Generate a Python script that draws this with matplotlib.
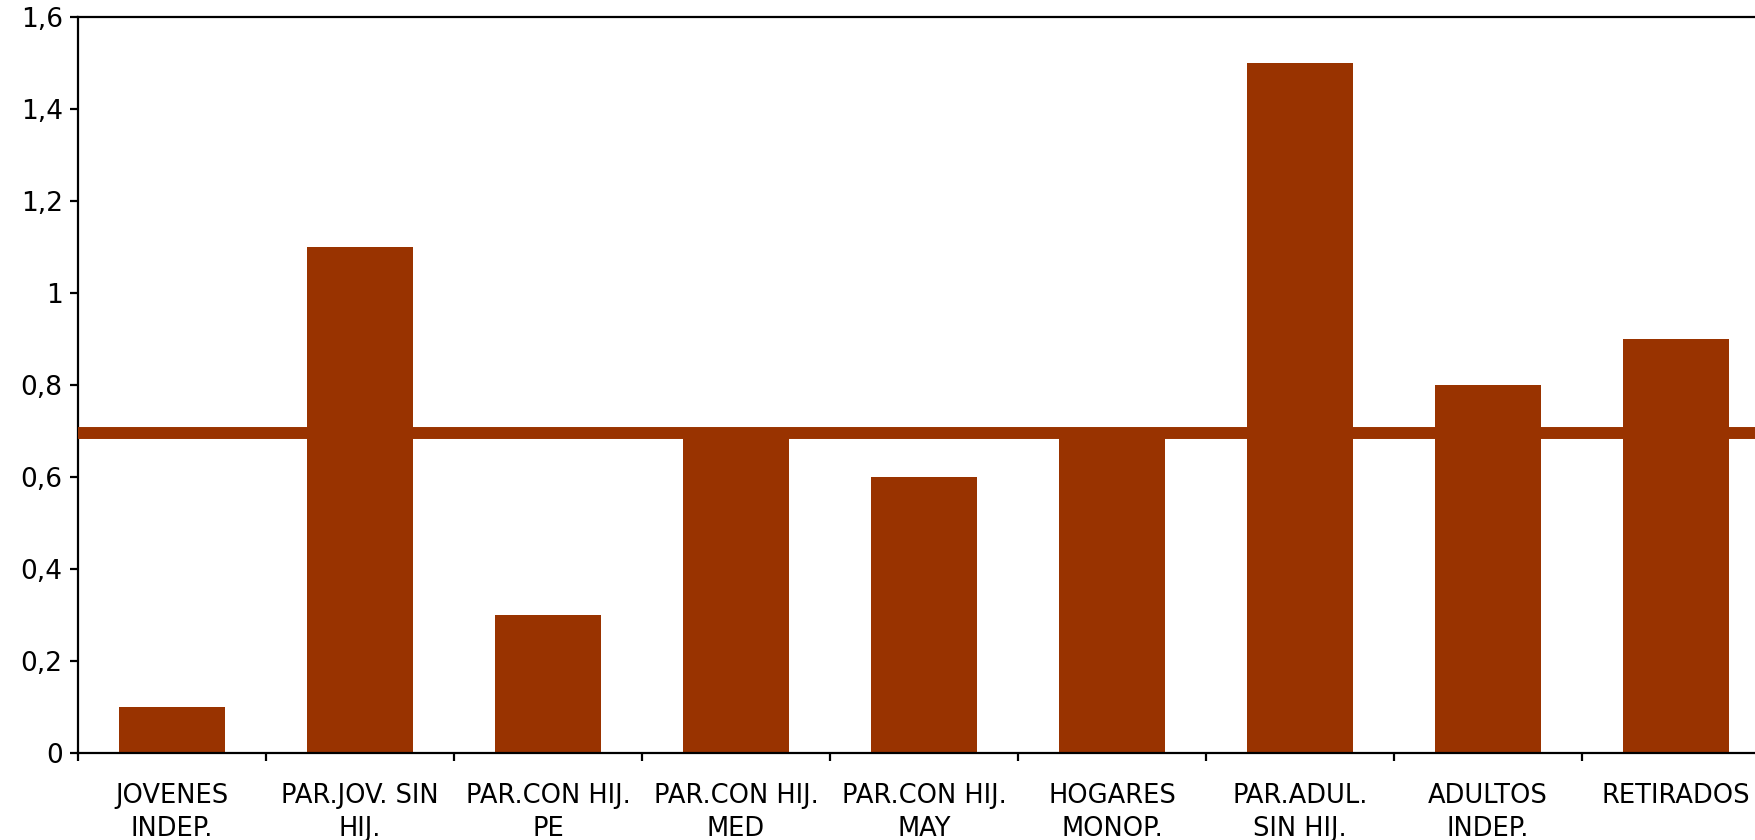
import numpy as np
import matplotlib.pyplot as plt
from matplotlib.ticker import FuncFormatter

categorias = ['JOVENES\nINDEP.', 'PAR.JOV. SIN\nHIJ.', 'PAR.CON HIJ.\nPE',
              'PAR.CON HIJ.\nMED', 'PAR.CON HIJ.\nMAY', 'HOGARES\nMONOP.',
              'PAR.ADUL.\nSIN HIJ.', 'ADULTOS\nINDEP.', 'RETIRADOS']
valores = [0.1, 1.1, 0.3, 0.7, 0.6, 0.7, 1.5, 0.8, 0.9]
media = 0.695
color = '#993300'

plt.rcParams['font.family'] = ['DejaVu Sans']

fig = plt.figure(figsize=(17.55, 8.4), dpi=100)
# the axes run past the right edge of the figure, as in the original
ax = fig.add_axes([78 / 1755, 87 / 840, 1692 / 1755, 736 / 840])

x = np.arange(len(categorias))
ax.bar(x, valores, width=0.56, color=color, zorder=2)
ax.axhline(media, color=color, linewidth=8.6, zorder=3)

ax.set_xlim(-0.5, len(categorias) - 0.5)
ax.set_ylim(0, 1.6)
ax.set_yticks(np.arange(0, 1.61, 0.2))
ax.yaxis.set_major_formatter(FuncFormatter(lambda v, p: ('%g' % round(v, 1)).replace('.', ',')))

ax.set_xticks(x)
ax.set_xticklabels(categorias, fontsize=18.5, linespacing=1.38)
ax.set_xticks(np.arange(-0.5, len(categorias), 1), minor=True)
ax.tick_params(axis='x', which='major', length=0, pad=21.5)
ax.tick_params(axis='x', which='minor', length=6, width=1.6, direction='out')
ax.tick_params(axis='y', length=6, width=1.6, pad=5, labelsize=19)

for s in ax.spines.values():
    s.set_linewidth(1.6)

fig.savefig('out.png', dpi=100)
